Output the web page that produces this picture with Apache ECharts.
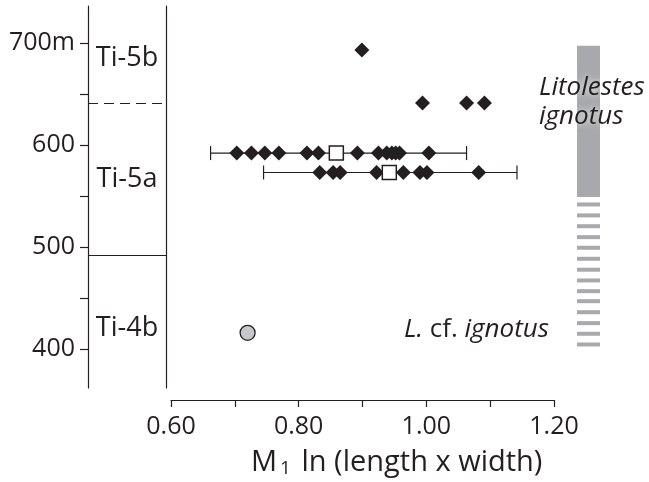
<!DOCTYPE html>
<html>
<head>
<meta charset="utf-8">
<script src="https://cdn.jsdelivr.net/npm/echarts@6/dist/echarts.min.js"></script>
<style>
  html, body { margin: 0; padding: 0; background: #fff; }
  #chart { width: 649px; height: 482px; }
</style>
</head>
<body>
<div id="chart"></div>
<script>
// depth range of the section (m)
const yMin = 362
const yMax = 736
const yTicks = [400, 450, 500, 550, 600, 650, 700]
const yLabels = [400, 500, 600, 700]
const xTicks = [0.6, 0.8, 1.0, 1.2]

// zone boundaries and names
const boundaryDashed = 641
const boundarySolid = 492
const zoneNames = ['Ti-5b', 'Ti-5a', 'Ti-4b']
const zoneMid = [685, 566, 420]

// Ti-5a rows of specimens
const row1X = [0.703, 0.726, 0.747, 0.769, 0.813, 0.831, 0.892, 0.925, 0.938, 0.946, 0.952, 0.958, 1.004]
const row1Y = 592
const row1Mean = 0.859
const row1Range = [0.662, 1.063]
const row2X = [0.833, 0.854, 0.865, 0.922, 0.964, 0.990, 1.001, 1.082]
const row2Y = 573
const row2Mean = 0.942
const row2Range = [0.745, 1.142]

// Ti-5b specimens
const upperX = [0.899, 0.994, 1.063, 1.091]
const upperY = [693, 641, 641, 641]

// L. cf. ignotus (Ti-4b)
const cfX = [0.72]
const cfY = [416]

// range bar at right
const rangeSolid = [549, 697]
const rangeDashes = [541.7, 531, 520.4, 509.7, 499.3, 488.5, 477.8, 467.3, 456.8, 447, 436.2, 425.5, 415.1, 404.6]

const ink = '#231f20'
const barGrey = '#a7a9ac'
const font = 'Open Sans'

const chart = echarts.init(document.getElementById('chart'))

const errorBar = (params, api) => {
  const a = api.coord([api.value(0), api.value(2)])
  const b = api.coord([api.value(1), api.value(2)])
  const st = { stroke: ink, lineWidth: 1.2 }
  return {
    type: 'group',
    children: [
      { type: 'line', shape: { x1: a[0], y1: a[1], x2: b[0], y2: b[1] }, style: st },
      { type: 'line', shape: { x1: a[0], y1: a[1] - 7, x2: a[0], y2: a[1] + 7 }, style: st },
      { type: 'line', shape: { x1: b[0], y1: b[1] - 7, x2: b[0], y2: b[1] + 7 }, style: st }
    ]
  }
}

const rangeRect = h => (params, api) => {
  const top = api.coord([0, api.value(1)])
  const bot = api.coord([1, api.value(0)])
  let y1 = top[1], y2 = bot[1]
  if (h) { const c = (y1 + y2) / 2; y1 = c - h / 2; y2 = c + h / 2 }
  return {
    type: 'rect',
    shape: { x: top[0], y: y1, width: bot[0] - top[0], height: y2 - y1 },
    style: { fill: barGrey }
  }
}

chart.setOption({
  animation: false,
  grid: [
    { left: 88, width: 78, top: 6, height: 382 },
    { left: 171, width: 383, top: 6, height: 382 },
    { left: 577, width: 23, top: 6, height: 382 }
  ],
  xAxis: [
    { gridIndex: 0, type: 'value', min: 0, max: 1, show: false },
    {
      gridIndex: 1, type: 'value', min: 0.6, max: 1.2, interval: 0.1, offset: 12,
      axisLine: { show: true, lineStyle: { color: ink, width: 1.2 } },
      axisTick: { show: true, length: 7, lineStyle: { color: ink, width: 1.2 } },
      splitLine: { show: false },
      axisLabel: {
        customValues: xTicks, margin: 14, color: ink, fontFamily: font, fontSize: 25,
        formatter: v => v.toFixed(2)
      }
    },
    { gridIndex: 2, type: 'value', min: 0, max: 1, show: false }
  ],
  yAxis: [
    {
      gridIndex: 0, type: 'value', min: yMin, max: yMax, position: 'left',
      axisLine: { show: true, lineStyle: { color: ink, width: 1.2 } },
      axisTick: { show: true, customValues: yTicks, length: 8, lineStyle: { color: ink, width: 1.2 } },
      splitLine: { show: false },
      axisLabel: {
        customValues: yLabels, margin: 13, color: ink, fontFamily: font, fontSize: 25,
        formatter: v => v === 700 ? '700m' : String(v)
      }
    },
    {
      gridIndex: 0, type: 'value', min: yMin, max: yMax, position: 'right',
      axisLine: { show: true, lineStyle: { color: ink, width: 1.2 } },
      axisTick: { show: false }, axisLabel: { show: false }, splitLine: { show: false }
    },
    { gridIndex: 1, type: 'value', min: yMin, max: yMax, show: false },
    { gridIndex: 2, type: 'value', min: yMin, max: yMax, show: false }
  ],
  graphic: [
    {
      type: 'text', left: 251, top: 448,
      style: {
        text: 'M{s|1} ln (length x width)', fill: ink, fontFamily: font, fontSize: 29,
        rich: { s: { fontFamily: font, fontSize: 19, fill: ink, padding: [12, 3, 0, 3] } }
      }
    },
    {
      type: 'text', left: 539, top: 73, z: 10,
      style: {
        text: 'Litolestes\nignotus', fill: ink, fontFamily: font, fontSize: 26,
        fontStyle: 'italic', lineHeight: 29,
        textShadowColor: 'rgba(255,255,255,0.9)', textShadowBlur: 6
      }
    },
    {
      type: 'text', left: 404, top: 317,
      style: {
        text: '{i|L.} cf. {i|ignotus}', fill: ink, fontFamily: font, fontSize: 26,
        rich: { i: { fontFamily: font, fontSize: 26, fontStyle: 'italic', fill: ink } }
      }
    }
  ],
  series: [
    {
      type: 'scatter', xAxisIndex: 0, yAxisIndex: 0, symbolSize: 0,
      itemStyle: { opacity: 1 },
      data: zoneNames.map((n, i) => [0.5, zoneMid[i], n]),
      label: {
        show: true, position: 'inside', formatter: p => p.value[2],
        color: ink, fontFamily: font, fontSize: 27
      },
      markLine: {
        silent: true, symbol: 'none', label: { show: false },
        data: [
          { yAxis: boundaryDashed, lineStyle: { type: [10, 6], color: ink, width: 1.2 } },
          { yAxis: boundarySolid, lineStyle: { type: 'solid', color: ink, width: 1.2 } }
        ]
      }
    },
    {
      type: 'custom', xAxisIndex: 1, yAxisIndex: 2, renderItem: errorBar,
      data: [[row1Range[0], row1Range[1], row1Y], [row2Range[0], row2Range[1], row2Y]]
    },
    {
      type: 'scatter', xAxisIndex: 1, yAxisIndex: 2, symbol: 'diamond', symbolSize: 15,
      itemStyle: { color: ink, opacity: 1 },
      data: row1X.map(x => [x, row1Y]).concat(row2X.map(x => [x, row2Y]))
        .concat(upperX.map((x, i) => [x, upperY[i]]))
    },
    {
      type: 'scatter', xAxisIndex: 1, yAxisIndex: 2, symbol: 'rect', symbolSize: 14,
      itemStyle: { color: '#fff', borderColor: ink, borderWidth: 1.5, opacity: 1 },
      data: [[row1Mean, row1Y], [row2Mean, row2Y]]
    },
    {
      type: 'scatter', xAxisIndex: 1, yAxisIndex: 2, symbol: 'circle', symbolSize: 15,
      itemStyle: { color: '#c7c8cc', borderColor: ink, borderWidth: 1.3, opacity: 1 },
      data: cfX.map((x, i) => [x, cfY[i]])
    },
    {
      type: 'custom', xAxisIndex: 2, yAxisIndex: 3, renderItem: rangeRect(0),
      data: [rangeSolid]
    },
    {
      type: 'custom', xAxisIndex: 2, yAxisIndex: 3, renderItem: rangeRect(4),
      data: rangeDashes.map(v => [v, v])
    }
  ]
})
</script>
</body>
</html>
